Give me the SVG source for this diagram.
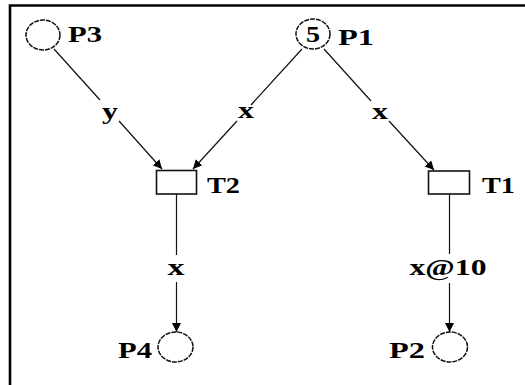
<svg xmlns="http://www.w3.org/2000/svg" width="525" height="385" viewBox="0 0 525 385">
<defs>
<style>
.place{fill:#fff;stroke:#111;stroke-width:1.5;stroke-dasharray:5 1}
.trans{fill:#fff;stroke:#111;stroke-width:1.6}
.arc{fill:none;stroke:#111;stroke-width:1.2}
.lbl{font-family:"Liberation Serif","Times New Roman",serif;font-weight:bold;font-size:24px;fill:#000;text-anchor:middle}
</style>
<marker id="ah" markerUnits="userSpaceOnUse" markerWidth="10" markerHeight="10" refX="9" refY="4.5" orient="auto">
<path d="M0,0 L9,4.5 L0,9 z" fill="#000"/>
</marker>
</defs>
<rect width="525" height="385" fill="#fff"/>
<path d="M10,385 V5.5 H525" fill="none" stroke="#000" stroke-width="2.6"/>
<g id="connectors">
<path class="arc" d="M54,49 L100,100 M119,121 L162,169" marker-end="url(#ah)"/>
<path class="arc" d="M302,49 L251,105 M237,121 L193,169" marker-end="url(#ah)"/>
<path class="arc" d="M324,49 L371,101 M389,121 L434,170" marker-end="url(#ah)"/>
<path class="arc" d="M176.5,194 V255 M176.5,282 V332" marker-end="url(#ah)"/>
<path class="arc" d="M449.5,194 V254 M449.5,283 V332" marker-end="url(#ah)"/>
<text class="lbl" x="110" y="119" textLength="16" lengthAdjust="spacingAndGlyphs">y</text>
<text class="lbl" x="246" y="118" textLength="16" lengthAdjust="spacingAndGlyphs">x</text>
<text class="lbl" x="380" y="119" textLength="16" lengthAdjust="spacingAndGlyphs">x</text>
<text class="lbl" x="176" y="275" textLength="17" lengthAdjust="spacingAndGlyphs">x</text>
<text class="lbl" x="448" y="275" textLength="77" lengthAdjust="spacingAndGlyphs">x@10</text>
</g>
<g id="P3">
<ellipse class="place" cx="43" cy="35" rx="17" ry="15"/>
<text class="lbl" x="85" y="42" textLength="34" lengthAdjust="spacingAndGlyphs">P3</text>
</g>
<g id="P1">
<ellipse class="place" cx="313" cy="34" rx="17" ry="15"/>
<text class="lbl" x="313" y="42" textLength="14" lengthAdjust="spacingAndGlyphs">5</text>
<text class="lbl" x="356" y="45" textLength="36" lengthAdjust="spacingAndGlyphs">P1</text>
</g>
<g id="T2">
<rect class="trans" x="156.5" y="170.5" width="40" height="23.5"/>
<text class="lbl" x="223.5" y="193" textLength="33" lengthAdjust="spacingAndGlyphs">T2</text>
</g>
<g id="T1">
<rect class="trans" x="428.5" y="171" width="41" height="23"/>
<text class="lbl" x="498.5" y="193" textLength="33" lengthAdjust="spacingAndGlyphs">T1</text>
</g>
<g id="P4">
<ellipse class="place" cx="175.5" cy="347" rx="17.5" ry="15"/>
<text class="lbl" x="135" y="358" textLength="34" lengthAdjust="spacingAndGlyphs">P4</text>
</g>
<g id="P2">
<ellipse class="place" cx="450" cy="347" rx="17.5" ry="15"/>
<text class="lbl" x="407" y="358" textLength="36" lengthAdjust="spacingAndGlyphs">P2</text>
</g>
</svg>
